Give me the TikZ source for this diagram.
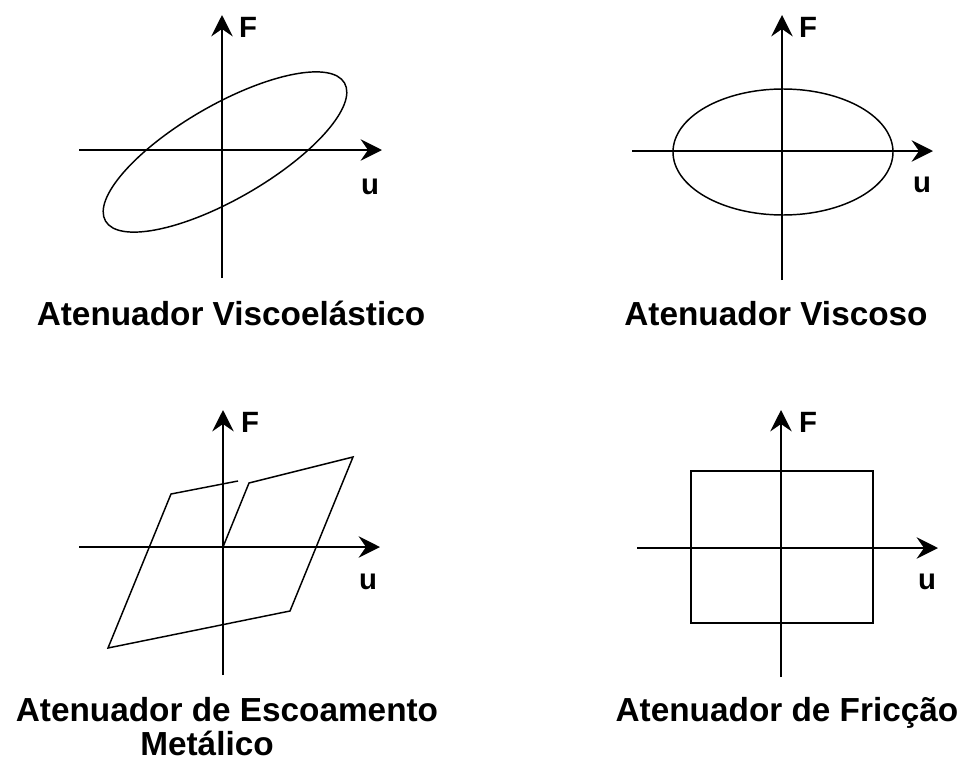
\documentclass[tikz,border=0pt]{standalone}
\usepackage{fontspec}
\setmainfont{Liberation Sans}
\usetikzlibrary{arrows.meta}
\begin{document}
\begin{tikzpicture}[x=0.75pt,y=-0.75pt,
  axis/.style={line width=1.8pt,-{Stealth[length=16pt,width=16pt,inset=5.5pt]}},
  curve/.style={line width=1.1pt,line join=miter},
  lbl/.style={font=\fontsize{25}{29}\selectfont\bfseries, inner sep=0pt, anchor=base},
  axlbl/.style={font=\fontsize{22}{25}\selectfont\bfseries, inner sep=0pt}]
\useasboundingbox (0,0) rectangle (965,764);

% ---------- Plot 1: viscoelastic ----------
\coordinate (v1b) at (222,278); \coordinate (v1t) at (222,15);
\coordinate (h1l) at (79,150);  \coordinate (h1r) at (382,150);
\coordinate (c1) at (225,152);
\draw[curve, rotate around={30:(c1)}] (c1) ellipse [x radius=138, y radius=47];
\draw[axis] (v1b) -- (v1t);
\draw[axis] (h1l) -- (h1r);
\node[axlbl] (F1) at (248,27) {F};
\node[axlbl] (u1) at (370,187) {u};
\node[lbl] (t1) at (231,325) {Atenuador Viscoelástico};

% ---------- Plot 2: viscous ----------
\coordinate (v2b) at (782,280); \coordinate (v2t) at (782,15);
\coordinate (h2l) at (632,151); \coordinate (h2r) at (933,151);
\coordinate (c2) at (783,152);
\draw[curve] (c2) ellipse [x radius=110, y radius=63];
\draw[axis] (v2b) -- (v2t);
\draw[axis] (h2l) -- (h2r);
\node[axlbl] (F2) at (808,27) {F};
\node[axlbl] (u2) at (922,185) {u};
\node[lbl] (t2) at (776,325) {Atenuador Viscoso};

% ---------- Plot 3: metallic yielding ----------
\coordinate (v3b) at (223,675); \coordinate (v3t) at (223,410);
\coordinate (h3l) at (79,547);  \coordinate (h3r) at (380,547);
\coordinate (p0) at (223,547);
\coordinate (p1) at (249,483);
\coordinate (p2) at (353,457);
\coordinate (p3) at (290,611);
\coordinate (p4) at (108,648);
\coordinate (p5) at (171,494);
\coordinate (p6) at (238,481);
\draw[curve] (p0) -- (p1) -- (p2) -- (p3) -- (p4) -- (p5) -- (p6);
\draw[axis] (v3b) -- (v3t);
\draw[axis] (h3l) -- (h3r);
\node[axlbl] (F3) at (250,422) {F};
\node[axlbl] (u3) at (368,582) {u};
\node[lbl] (t3) at (227,721) {Atenuador de Escoamento};
\node[lbl] (t3b) at (207,755) {Metálico};

% ---------- Plot 4: friction ----------
\coordinate (v4b) at (781,677); \coordinate (v4t) at (781,410);
\coordinate (h4l) at (637,548); \coordinate (h4r) at (938,548);
\draw[curve] (691,471) rectangle (873,623);
\draw[axis] (v4b) -- (v4t);
\draw[axis] (h4l) -- (h4r);
\node[axlbl] (F4) at (808,422) {F};
\node[axlbl] (u4) at (927,582) {u};
\node[lbl] (t4) at (787,721) {Atenuador de Fricção};
\end{tikzpicture}
\end{document}
